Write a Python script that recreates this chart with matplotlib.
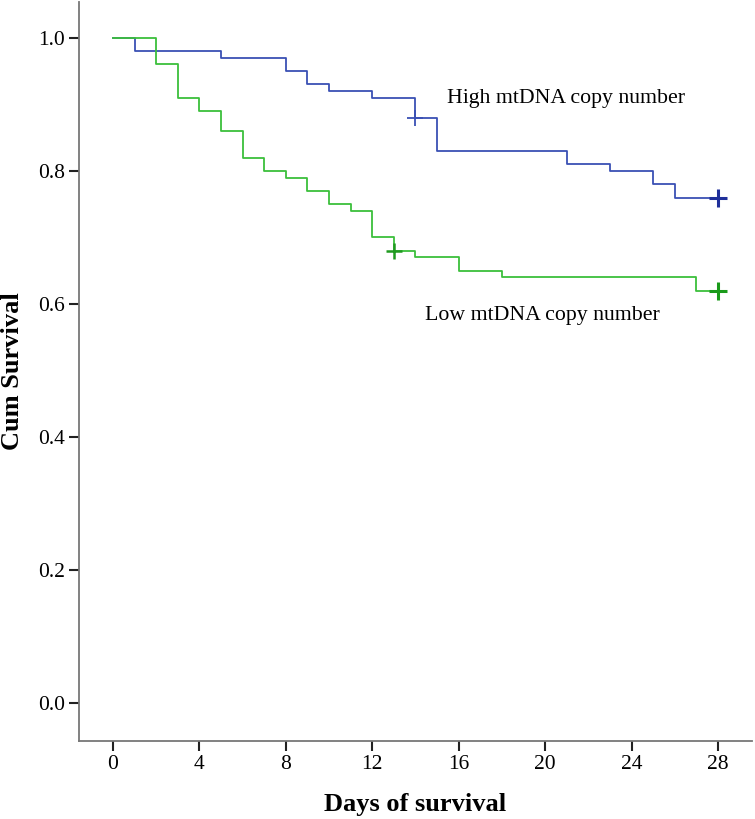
import numpy as np
import matplotlib
matplotlib.use("Agg")
import matplotlib.pyplot as plt

# Kaplan-Meier step data
high_days = [0, 1, 5, 8, 9, 10, 12, 14, 15, 21, 23, 25, 26, 28]
high_surv = [1.00, 0.98, 0.97, 0.95, 0.93, 0.92, 0.91, 0.88, 0.83, 0.81, 0.80, 0.78, 0.76, 0.76]
high_cens_days = [14, 28]
high_cens_surv = [0.88, 0.76]

low_days = [0, 2, 3, 4, 5, 6, 7, 8, 9, 10, 11, 12, 13, 14, 16, 18, 27, 28]
low_surv = [1.00, 0.96, 0.91, 0.89, 0.86, 0.82, 0.80, 0.79, 0.77, 0.75, 0.74, 0.70, 0.68, 0.67, 0.65, 0.64, 0.62, 0.62]
low_cens_days = [13, 28]
low_cens_surv = [0.68, 0.62]

x_ticks = [0, 4, 8, 12, 16, 20, 24, 28]
y_ticks = [0.0, 0.2, 0.4, 0.6, 0.8, 1.0]

plt.rcParams['font.family'] = ['Liberation Serif', 'DejaVu Serif']

fig = plt.figure(figsize=(7.55, 8.19), dpi=100)
ax = fig.add_axes([0.1046, 0.0952, 0.8914, 0.9024])

ax.step(high_days, high_surv, where='post', color='#3a50b4', lw=1.3)
ax.step(low_days, low_surv, where='post', color='#3cbf3c', lw=1.3)
ax.plot(high_cens_days[:1], high_cens_surv[:1], '+', color='#3a50b4', ms=11, mew=1.3)
ax.plot(high_cens_days[1:], high_cens_surv[1:], '+', color='#1f2f9a', ms=13, mew=2.2)
ax.plot(low_cens_days[:1], low_cens_surv[:1], '+', color='#1f9a1f', ms=11, mew=1.8)
ax.plot(low_cens_days[1:], low_cens_surv[1:], '+', color='#1a9a1a', ms=13, mew=2.2)

ax.text(15.45, 0.909, 'High mtDNA copy number', fontsize=15.7, va='center', ha='left')
ax.text(14.45, 0.583, 'Low mtDNA copy number', fontsize=15.7, va='center', ha='left')

ax.set_xlim(-1.57, 29.57)
ax.set_ylim(-0.057, 1.054)
ax.set_xticks(x_ticks)
ax.set_yticks(y_ticks)
ax.set_yticklabels(['%.1f' % v for v in y_ticks])

for s in ['top', 'right']:
    ax.spines[s].set_visible(False)
for s in ['left', 'bottom']:
    ax.spines[s].set_color('#777777')
    ax.spines[s].set_linewidth(1.3)
ax.tick_params(axis='both', direction='out', length=7, width=1.5, color='#222222',
               labelsize=15.5, pad=3)

ax.set_xlabel('Days of survival', fontsize=19, fontweight='bold', labelpad=14)
ax.set_ylabel('Cum Survival', fontsize=19, fontweight='bold', labelpad=10)

fig.savefig('out.png', dpi=100)
